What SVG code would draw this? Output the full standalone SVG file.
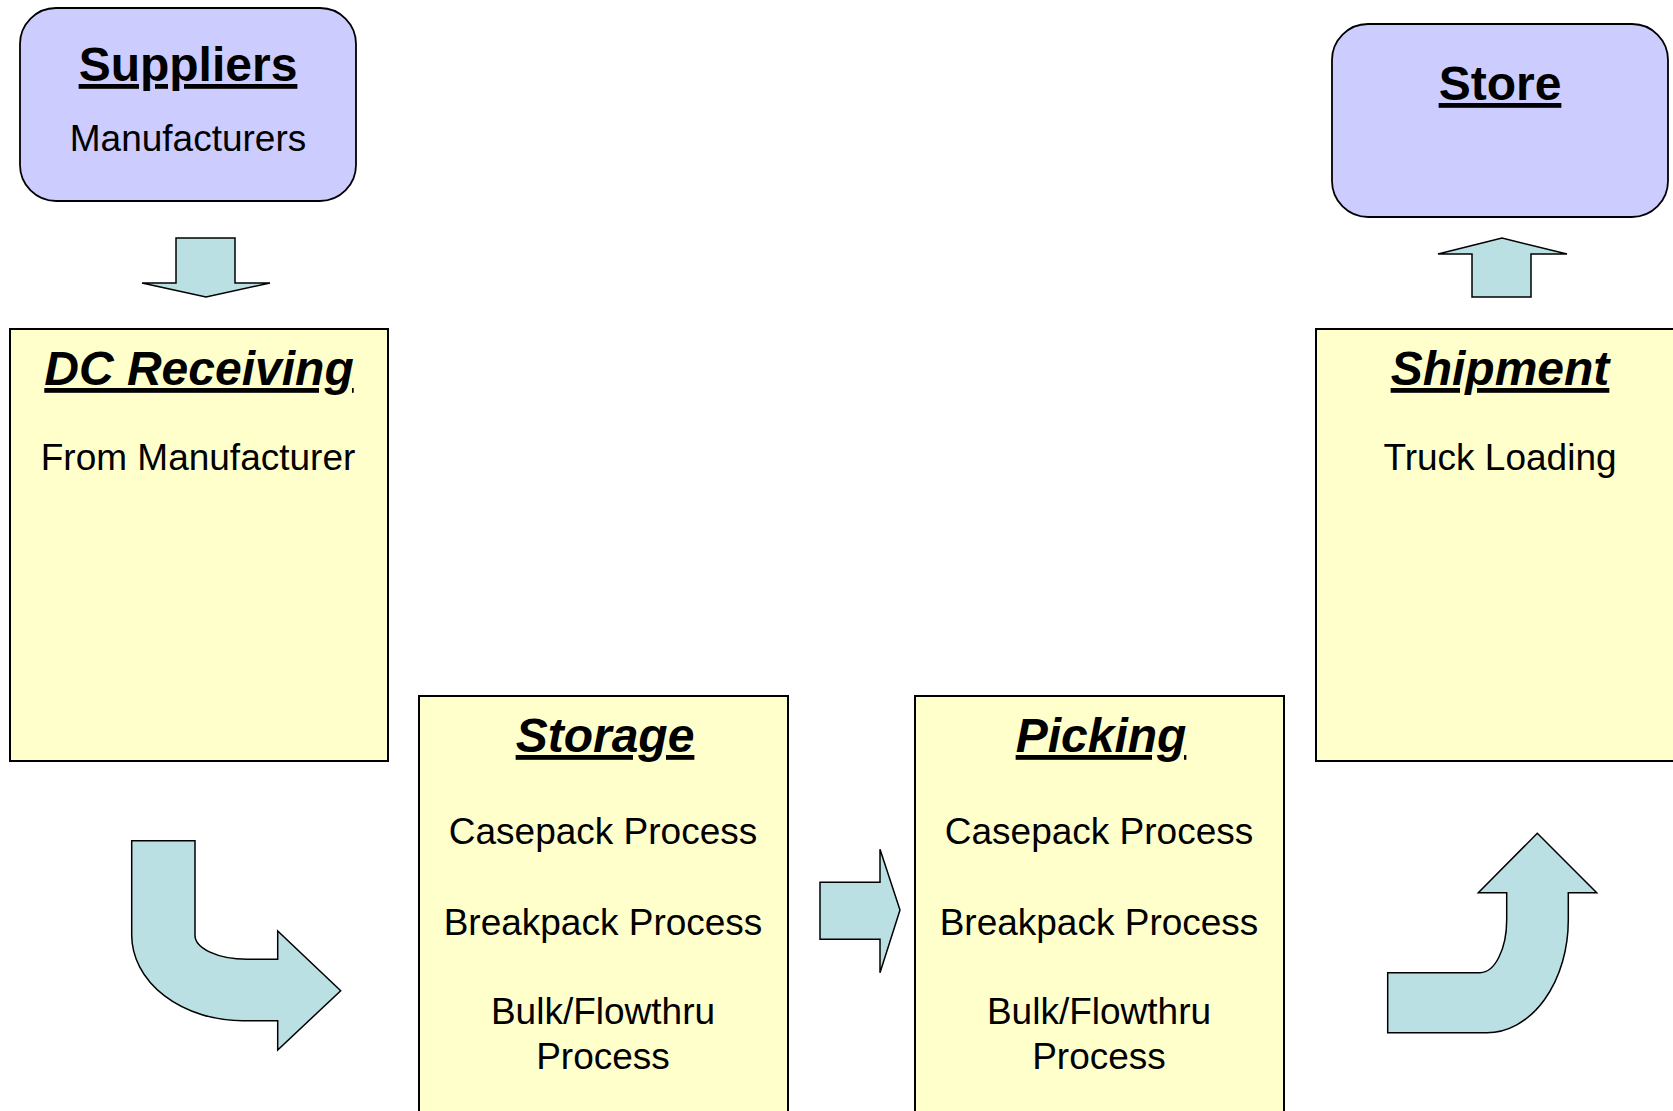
<svg xmlns="http://www.w3.org/2000/svg" width="1673" height="1111" viewBox="0 0 1673 1111">
  <style>
    .end { fill: #CCCCFF; stroke: #000; stroke-width: 1.8; }
    .stage { fill: #FFFFCC; stroke: #000; stroke-width: 2; }
    .flow { fill: #BBE0E3; stroke: #000; stroke-width: 1.5; stroke-linejoin: miter; }
    text { font-family: "Liberation Sans", Arial, sans-serif; fill: #000; text-anchor: middle; }
    .title { font-size: 48px; font-weight: bold; text-decoration: underline; }
    .title.it { font-style: italic; }
    .body { font-size: 37px; }
  </style>
  <rect width="1673" height="1111" fill="#fff"/>

  <g id="suppliers">
    <rect class="end" x="20" y="8" width="336" height="193" rx="36" ry="36"/>
    <text class="title" x="188" y="81">Suppliers</text>
    <text class="body" x="188" y="151">Manufacturers</text>
  </g>

  <g id="store">
    <rect class="end" x="1332" y="24" width="336" height="193" rx="36" ry="36"/>
    <text class="title" x="1500" y="100">Store</text>
  </g>

  <g id="dc-receiving">
    <rect class="stage" x="10" y="329" width="378" height="432"/>
    <text class="title it" x="199" y="385">DC Receiving</text>
    <text class="body" x="198" y="470">From Manufacturer</text>
  </g>

  <g id="storage">
    <rect class="stage" x="419" y="696" width="369" height="430"/>
    <text class="title it" x="605" y="752">Storage</text>
    <text class="body" x="603" y="844">Casepack Process</text>
    <text class="body" x="603" y="935">Breakpack Process</text>
    <text class="body" x="603" y="1024">Bulk/Flowthru</text>
    <text class="body" x="603" y="1069">Process</text>
  </g>

  <g id="picking">
    <rect class="stage" x="915" y="696" width="369" height="430"/>
    <text class="title it" x="1101" y="752">Picking</text>
    <text class="body" x="1099" y="844">Casepack Process</text>
    <text class="body" x="1099" y="935">Breakpack Process</text>
    <text class="body" x="1099" y="1024">Bulk/Flowthru</text>
    <text class="body" x="1099" y="1069">Process</text>
  </g>

  <g id="shipment">
    <rect class="stage" x="1316" y="329" width="378" height="432"/>
    <text class="title it" x="1500" y="385">Shipment</text>
    <text class="body" x="1500" y="470">Truck Loading</text>
  </g>

  <g id="connectors">
    <!-- suppliers down to receiving -->
    <path class="flow" d="M176,238 L235,238 L235,283 L270,283 L206,297 L142,283 L176,283 Z"/>
    <!-- receiving bends into storage -->
    <path class="flow" d="M131.7,840.7 L195,840.7 L195,935 A52,24 0 0 0 247,959.3 L277.7,959.3 L277.7,931 L340.7,990.7 L277.7,1050 L277.7,1020.7 L243,1020.7 A111.3,85.7 0 0 1 131.7,935 Z"/>
    <!-- storage to picking -->
    <path class="flow" d="M820,882.3 L880,882.3 L880,849.3 L900,910 L880,972.7 L880,939.3 L820,939.3 Z"/>
    <!-- picking bends up to shipment -->
    <path class="flow" d="M1387.7,972.7 L1480,972.7 A26.7,52.7 0 0 0 1506.7,920 L1506.7,892.7 L1478.3,892.7 L1537.3,833.3 L1596.7,892.7 L1568.3,892.7 L1568.3,920 A81.6,112.7 0 0 1 1486.7,1032.7 L1387.7,1032.7 Z"/>
    <!-- shipment up to store -->
    <path class="flow" d="M1472,297 L1531,297 L1531,254 L1567,254 L1502,238 L1438,254 L1472,254 Z"/>
  </g>
</svg>
